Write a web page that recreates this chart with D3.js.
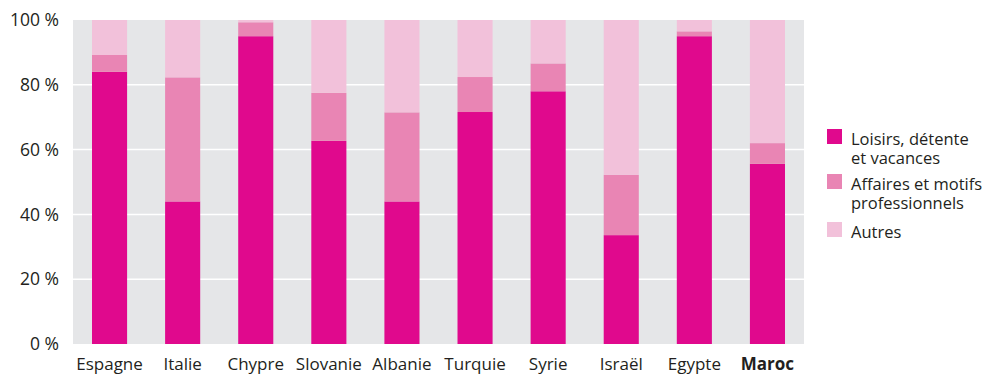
<!DOCTYPE html>
<html>
<head>
  <meta charset="utf-8">
  <style>
    body { margin: 0; background: #fff; }
    text { font-family: "Open Sans", sans-serif; fill: #231f20; }
  </style>
  <script src="https://d3js.org/d3.v7.min.js"></script>
</head>
<body>
  <div id="chart"></div>
  <script>
    const countries = ['Espagne', 'Italie', 'Chypre', 'Slovanie', 'Albanie',
      'Turquie', 'Syrie', 'Israël', 'Egypte', 'Maroc'];
    const loisirs  = [84, 44, 95, 62.7, 44, 71.6, 78, 33.6, 95, 55.6];
    const affaires = [5.2, 38.3, 4.3, 14.8, 27.5, 10.8, 8.6, 18.6, 1.5, 6.4];
    const autres   = [10.8, 17.7, 0.7, 22.5, 28.5, 17.6, 13.4, 47.8, 3.5, 38];
    const seriesNames = ['Loisirs, détente|et vacances', 'Affaires et motifs|professionnels', 'Autres'];
    const yTicks = [0, 20, 40, 60, 80, 100];

    const colors = ['#e0098d', '#e985b4', '#f2c1da'];

    const W = 986, H = 374;
    const plot = { left: 73, right: 804, top: 20, bottom: 344 };

    const svg = d3.select('#chart').append('svg')
      .attr('width', W)
      .attr('height', H);

    const x = d3.scaleBand()
      .domain(countries)
      .range([plot.left, plot.right])
      .paddingInner(0.52)
      .paddingOuter(0.26);

    const y = d3.scaleLinear()
      .domain([0, 100])
      .range([plot.bottom, plot.top]);

    // grey background + white grid
    svg.append('rect')
      .attr('x', plot.left).attr('y', plot.top)
      .attr('width', plot.right - plot.left)
      .attr('height', plot.bottom - plot.top)
      .attr('fill', '#e5e6e8');

    svg.append('g')
      .selectAll('line')
      .data(yTicks.filter(d => d > 0 && d < 100))
      .join('line')
        .attr('x1', plot.left).attr('x2', plot.right)
        .attr('y1', d => y(d)).attr('y2', d => y(d))
        .attr('stroke', '#fff')
        .attr('stroke-width', 1.5);

    // stacked data
    const table = countries.map((c, i) => ({ country: c, loisirs: loisirs[i], affaires: affaires[i], autres: autres[i] }));
    const stack = d3.stack().keys(['loisirs', 'affaires', 'autres'])(table);

    svg.append('g')
      .selectAll('g')
      .data(stack)
      .join('g')
        .attr('fill', (d, i) => colors[i])
      .selectAll('rect')
      .data(d => d)
      .join('rect')
        .attr('x', d => x(d.data.country))
        .attr('y', d => y(d[1]))
        .attr('width', x.bandwidth())
        .attr('height', d => y(d[0]) - y(d[1]));

    // y axis labels
    svg.append('g')
      .selectAll('text')
      .data(yTicks)
      .join('text')
        .attr('x', 59)
        .attr('y', d => y(d))
        .attr('dy', '0.35em')
        .attr('text-anchor', 'end')
        .style('font-size', '17.5px')
        .text(d => d + ' %');

    // x axis labels
    svg.append('g')
      .selectAll('text')
      .data(countries)
      .join('text')
        .attr('x', d => x(d) + x.bandwidth() / 2)
        .attr('y', 370)
        .attr('text-anchor', 'middle')
        .style('font-size', '17px')
        .style('font-weight', d => d === 'Maroc' ? 'bold' : 'normal')
        .text(d => d);

    // legend
    const legendY = [129, 174, 222];
    const legend = svg.append('g')
      .selectAll('g')
      .data(seriesNames)
      .join('g')
        .attr('transform', (d, i) => `translate(827, ${legendY[i]})`);

    legend.append('rect')
      .attr('width', 15).attr('height', 15)
      .attr('fill', (d, i) => colors[i]);

    legend.append('text')
      .attr('x', 24)
      .attr('y', 16)
      .style('font-size', '16.5px')
      .selectAll('tspan')
      .data(d => d.split('|'))
      .join('tspan')
        .attr('x', 24)
        .attr('dy', (d, i) => i === 0 ? 0 : 18.5)
        .text(d => d);
  </script>
</body>
</html>
